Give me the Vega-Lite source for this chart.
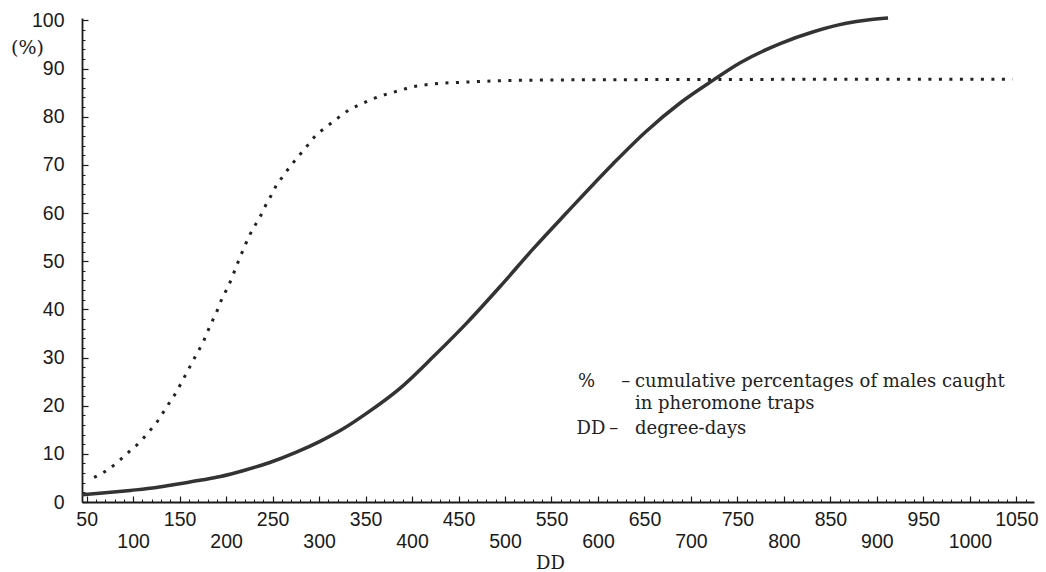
{
  "$schema": "https://vega.github.io/schema/vega-lite/v6.json",
  "width": 952,
  "height": 484,
  "autosize": "none",
  "padding": {"left": 82, "top": 18, "right": 12, "bottom": 70},
  "background": "white",
  "config": {
    "view": {"stroke": null},
    "axis": {"grid": false, "domainColor": "#1a1a1a", "tickColor": "#1a1a1a", "labelColor": "#1a1a1a", "titleColor": "#1a1a1a"}
  },
  "datasets": {
    "curves": [
      {"series": "dotted", "dd": 58, "pct": 5.1},
      {"series": "dotted", "dd": 72, "pct": 6.6},
      {"series": "dotted", "dd": 84, "pct": 8.4},
      {"series": "dotted", "dd": 96, "pct": 10.5},
      {"series": "dotted", "dd": 107, "pct": 12.4},
      {"series": "dotted", "dd": 117, "pct": 14.6},
      {"series": "dotted", "dd": 126, "pct": 16.7},
      {"series": "dotted", "dd": 133, "pct": 18.8},
      {"series": "dotted", "dd": 140, "pct": 20.9},
      {"series": "dotted", "dd": 147, "pct": 23.0},
      {"series": "dotted", "dd": 153, "pct": 25.2},
      {"series": "dotted", "dd": 159, "pct": 27.3},
      {"series": "dotted", "dd": 164, "pct": 29.2},
      {"series": "dotted", "dd": 170, "pct": 31.3},
      {"series": "dotted", "dd": 176, "pct": 33.5},
      {"series": "dotted", "dd": 181, "pct": 35.8},
      {"series": "dotted", "dd": 186, "pct": 37.9},
      {"series": "dotted", "dd": 191, "pct": 40.0},
      {"series": "dotted", "dd": 195.5, "pct": 42.2},
      {"series": "dotted", "dd": 201, "pct": 44.3},
      {"series": "dotted", "dd": 206, "pct": 46.4},
      {"series": "dotted", "dd": 210.5, "pct": 48.7},
      {"series": "dotted", "dd": 215, "pct": 50.8},
      {"series": "dotted", "dd": 220, "pct": 53.1},
      {"series": "dotted", "dd": 225, "pct": 55.3},
      {"series": "dotted", "dd": 231, "pct": 57.4},
      {"series": "dotted", "dd": 237, "pct": 59.4},
      {"series": "dotted", "dd": 242, "pct": 61.4},
      {"series": "dotted", "dd": 248, "pct": 63.5},
      {"series": "dotted", "dd": 254, "pct": 65.7},
      {"series": "dotted", "dd": 261, "pct": 67.6},
      {"series": "dotted", "dd": 269, "pct": 69.7},
      {"series": "dotted", "dd": 278, "pct": 71.8},
      {"series": "dotted", "dd": 287, "pct": 73.9},
      {"series": "dotted", "dd": 296, "pct": 76.0},
      {"series": "dotted", "dd": 308, "pct": 77.9},
      {"series": "dotted", "dd": 320, "pct": 79.7},
      {"series": "dotted", "dd": 333, "pct": 81.5},
      {"series": "dotted", "dd": 346, "pct": 82.7},
      {"series": "dotted", "dd": 359, "pct": 83.8},
      {"series": "dotted", "dd": 371, "pct": 84.6},
      {"series": "dotted", "dd": 384, "pct": 85.3},
      {"series": "dotted", "dd": 398, "pct": 86.1},
      {"series": "dotted", "dd": 423, "pct": 86.8},
      {"series": "dotted", "dd": 459, "pct": 87.2},
      {"series": "dotted", "dd": 530, "pct": 87.6},
      {"series": "dotted", "dd": 638, "pct": 87.7},
      {"series": "dotted", "dd": 1046, "pct": 87.8},
      {"series": "solid", "dd": 45, "pct": 1.5},
      {"series": "solid", "dd": 70, "pct": 1.9},
      {"series": "solid", "dd": 97, "pct": 2.4},
      {"series": "solid", "dd": 125, "pct": 3.0},
      {"series": "solid", "dd": 150, "pct": 3.8},
      {"series": "solid", "dd": 175, "pct": 4.6},
      {"series": "solid", "dd": 194, "pct": 5.3},
      {"series": "solid", "dd": 220, "pct": 6.6},
      {"series": "solid", "dd": 247, "pct": 8.2},
      {"series": "solid", "dd": 275, "pct": 10.3},
      {"series": "solid", "dd": 301, "pct": 12.6},
      {"series": "solid", "dd": 325, "pct": 15.1},
      {"series": "solid", "dd": 351, "pct": 18.4},
      {"series": "solid", "dd": 387, "pct": 23.6},
      {"series": "solid", "dd": 423, "pct": 30.2},
      {"series": "solid", "dd": 459, "pct": 37.2},
      {"series": "solid", "dd": 495, "pct": 44.8},
      {"series": "solid", "dd": 530, "pct": 52.5},
      {"series": "solid", "dd": 566, "pct": 60.0},
      {"series": "solid", "dd": 616, "pct": 70.2},
      {"series": "solid", "dd": 652, "pct": 77.0},
      {"series": "solid", "dd": 688, "pct": 82.8},
      {"series": "solid", "dd": 724, "pct": 87.6},
      {"series": "solid", "dd": 753, "pct": 91.2},
      {"series": "solid", "dd": 796, "pct": 95.2},
      {"series": "solid", "dd": 831, "pct": 97.6},
      {"series": "solid", "dd": 867, "pct": 99.4},
      {"series": "solid", "dd": 890, "pct": 100.1},
      {"series": "solid", "dd": 912, "pct": 100.5}
    ],
    "notes": [
      {"dd": 578.5, "pct": 25.0, "note": "%"},
      {"dd": 625, "pct": 25.0, "note": "–"},
      {"dd": 639.8, "pct": 25.0, "note": "cumulative percentages of males caught"},
      {"dd": 639.8, "pct": 20.3, "note": "in pheromone traps"},
      {"dd": 577, "pct": 15.2, "note": "DD"},
      {"dd": 612, "pct": 15.2, "note": "–"},
      {"dd": 639.8, "pct": 15.2, "note": "degree-days"}
    ]
  },
  "resolve": {"axis": {"x": "independent", "y": "independent"}},
  "layer": [
    {
      "data": {"name": "curves"},
      "transform": [{"filter": "datum.series === 'dotted'"}],
      "mark": {"type": "line", "strokeDash": [3, 7.5], "strokeWidth": 3, "strokeCap": "butt", "color": "#222222", "interpolate": "monotone"},
      "encoding": {
        "x": {
          "field": "dd", "type": "quantitative",
          "scale": {"domain": [45, 1069], "nice": false, "zero": false},
          "axis": {
            "orient": "bottom", "title": null, "labels": false, "domain": false,
            "values": [50,60,70,80,90,100,110,120,130,140,150,160,170,180,190,200,210,220,230,240,250,260,270,280,290,300,310,320,330,340,350,360,370,380,390,400,410,420,430,440,450,460,470,480,490,500,510,520,530,540,550,560,570,580,590,600,610,620,630,640,650,660,670,680,690,700,710,720,730,740,750,760,770,780,790,800,810,820,830,840,850,860,870,880,890,900,910,920,930,940,950,960,970,980,990,1000,1010,1020,1030,1040,1050,1060],
            "offset": -3, "tickSize": 3, "tickWidth": 1
          }
        },
        "y": {
          "field": "pct", "type": "quantitative",
          "scale": {"domain": [0, 100.5], "nice": false, "zero": false},
          "axis": {
            "orient": "left", "title": null, "labels": false, "domain": false,
            "values": [0,2,4,6,8,10,12,14,16,18,20,22,24,26,28,30,32,34,36,38,40,42,44,46,48,50,52,54,56,58,60,62,64,66,68,70,72,74,76,78,80,82,84,86,88,90,92,94,96,98,100],
            "offset": -3, "tickSize": 3, "tickWidth": 1
          }
        }
      }
    },
    {
      "data": {"name": "curves"},
      "transform": [{"filter": "datum.series === 'solid'"}],
      "mark": {"type": "line", "strokeWidth": 3.5, "color": "#333333", "interpolate": "monotone"},
      "encoding": {
        "x": {
          "field": "dd", "type": "quantitative",
          "axis": {
            "orient": "bottom",
            "values": [50,100,150,200,250,300,350,400,450,500,550,600,650,700,750,800,850,900,950,1000,1050],
            "format": "d",
            "offset": -6, "tickSize": 6, "tickWidth": 1.2, "domain": false,
            "labelFont": "Liberation Sans", "labelFontSize": 19.5, "labelPadding": 8, "labelOverlap": false, "labelFlush": false,
            "labelBaseline": "top", "labelLineHeight": 22,
            "labelExpr": "datum.value % 100 === 0 ? ['', datum.label] : datum.label",
            "title": "DD", "titleFont": "DejaVu Serif", "titleFontSize": 18, "titleFontWeight": "normal",
            "titleX": 468, "titleY": 67, "titleBaseline": "middle", "titleAlign": "center"
          }
        },
        "y": {
          "field": "pct", "type": "quantitative",
          "axis": {
            "orient": "left",
            "values": [0,10,20,30,40,50,60,70,80,90,100],
            "offset": -6, "tickSize": 6, "tickWidth": 1.2, "domain": false,
            "labelFont": "Liberation Sans", "labelFontSize": 19.5, "labelPadding": 18, "labelOverlap": false, "labelFlush": false,
            "title": "(%)", "titleFont": "DejaVu Serif", "titleFontSize": 19, "titleFontWeight": "normal",
            "titleAngle": 0, "titleX": -61, "titleY": 29, "titleAlign": "center", "titleBaseline": "middle"
          }
        }
      }
    },
    {
      "data": {"name": "notes"},
      "mark": {"type": "text", "align": "left", "baseline": "middle", "font": "DejaVu Serif", "fontSize": 18, "color": "#222222"},
      "encoding": {
        "x": {"field": "dd", "type": "quantitative",
          "axis": {"orient": "bottom", "title": null, "labels": false, "ticks": false, "domain": true, "domainWidth": 1.8}},
        "y": {"field": "pct", "type": "quantitative",
          "axis": {"orient": "left", "title": null, "labels": false, "ticks": false, "domain": true, "domainWidth": 1.8}},
        "text": {"field": "note"}
      }
    }
  ]
}
